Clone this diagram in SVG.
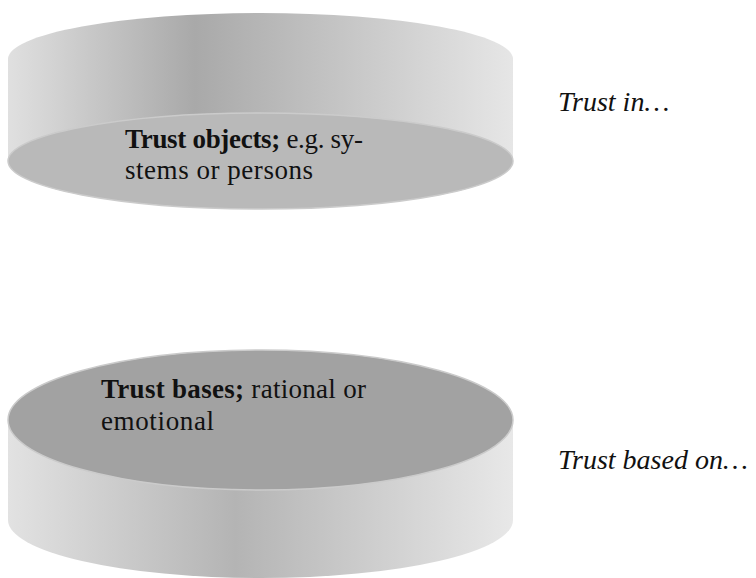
<svg xmlns="http://www.w3.org/2000/svg" width="756" height="578" viewBox="0 0 756 578">
  <style>
    .label { font-family: "Liberation Serif", "Times New Roman", serif; font-size: 27px; fill: #111; }
    .label .b { font-weight: bold; }
    .side-note { font-family: "Liberation Serif", "Times New Roman", serif; font-size: 28px; font-style: italic; fill: #111; }
    .rim { stroke: #cbcbcb; stroke-width: 1.5; }
  </style>
  <defs>
    <linearGradient id="wallUpper" gradientUnits="userSpaceOnUse" x1="8" y1="0" x2="513" y2="0">
      <stop offset="0" stop-color="#e0e0e0"/>
      <stop offset="0.37" stop-color="#a9a9a9"/>
      <stop offset="1" stop-color="#e6e6e6"/>
    </linearGradient>
    <linearGradient id="wallLower" gradientUnits="userSpaceOnUse" x1="8" y1="0" x2="513" y2="0">
      <stop offset="0" stop-color="#e2e2e2"/>
      <stop offset="0.45" stop-color="#b4b4b4"/>
      <stop offset="1" stop-color="#e8e8e8"/>
    </linearGradient>
  </defs>

  <!-- upper disc, seen from below: wall plus bottom face -->
  <g id="trust-objects">
    <path d="M8,59 A252.5,46 0 0 1 513,59 L513,161 A252.5,48 0 0 1 8,161 Z" fill="url(#wallUpper)"/>
    <ellipse class="rim" cx="260.5" cy="161" rx="252.5" ry="48" fill="#b9b9b9"/>
    <text class="label" x="125" y="148" textLength="238"><tspan class="b">Trust objects;</tspan> e.g. sy-</text>
    <text class="label" x="125" y="179" textLength="188">stems or persons</text>
  </g>

  <!-- lower disc, seen from above: wall plus top face -->
  <g id="trust-bases">
    <path d="M8,420 L8,520 A252.5,58 0 0 0 513,520 L513,420 Z" fill="url(#wallLower)"/>
    <ellipse class="rim" cx="260.5" cy="420" rx="252.5" ry="70" fill="#a2a2a2"/>
    <text class="label" x="101" y="398" textLength="265"><tspan class="b">Trust bases;</tspan> rational or</text>
    <text class="label" x="101" y="430" textLength="113">emotional</text>
  </g>

  <g id="note-trust-in">
    <text class="side-note" x="558" y="111">Trust in…</text>
  </g>
  <g id="note-trust-based-on">
    <text class="side-note" x="558" y="469">Trust based on…</text>
  </g>
</svg>
